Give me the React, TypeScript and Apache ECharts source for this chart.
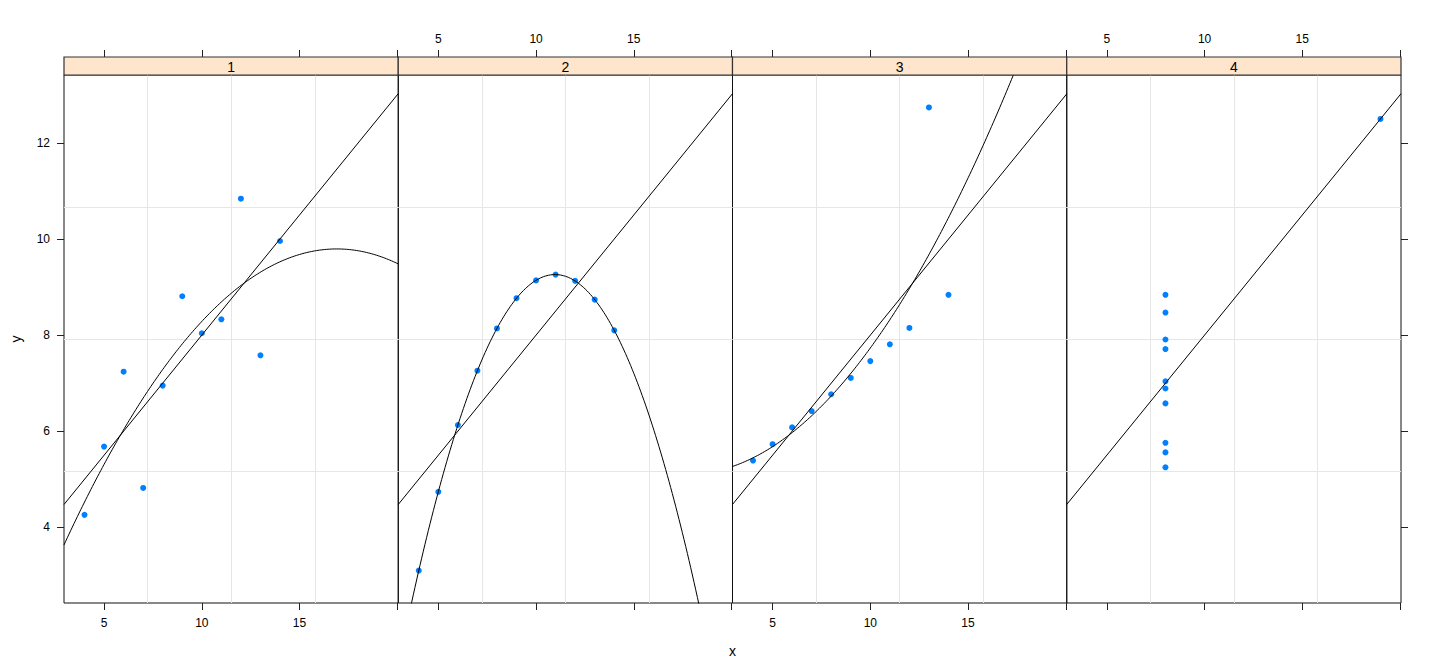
import * as echarts from 'echarts';
import { useEffect, useRef } from 'react';

// Anscombe's quartet
const x123 = [10, 8, 13, 9, 11, 14, 6, 4, 12, 7, 5];
const x4 = [8, 8, 8, 8, 8, 8, 8, 19, 8, 8, 8];
const y1 = [8.04, 6.95, 7.58, 8.81, 8.33, 9.96, 7.24, 4.26, 10.84, 4.82, 5.68];
const y2 = [9.14, 8.14, 8.74, 8.77, 9.26, 8.1, 6.13, 3.1, 9.13, 7.26, 4.74];
const y3 = [7.46, 6.77, 12.74, 7.11, 7.81, 8.84, 6.08, 5.39, 8.15, 6.42, 5.73];
const y4 = [6.58, 5.76, 7.71, 8.84, 8.47, 7.04, 5.25, 12.5, 5.56, 7.91, 6.89];

const panelLabels = ['1', '2', '3', '4'];
const xTicks = [5, 10, 15, 20];
const xTickLabels = [5, 10, 15];
const yTicks = [4, 6, 8, 10, 12];

const FONT = 'Liberation Sans';

const panels = [
  { x: x123, y: y1 },
  { x: x123, y: y2 },
  { x: x123, y: y3 },
  { x: x4, y: y4 },
];

// least squares polynomial fit, returns coefficients [c0, c1, ...]
function fitPoly(xs: number[], ys: number[], deg: number) {
  const n = deg + 1;
  const A: number[][] = [];
  for (let r = 0; r < n; r++) {
    A.push([]);
    for (let c = 0; c < n; c++) {
      A[r].push(xs.reduce((s, x) => s + Math.pow(x, r + c), 0));
    }
    A[r].push(xs.reduce((s, x, k) => s + Math.pow(x, r) * ys[k], 0));
  }
  for (let i = 0; i < n; i++) {
    let p = i;
    for (let r = i + 1; r < n; r++) if (Math.abs(A[r][i]) > Math.abs(A[p][i])) p = r;
    [A[i], A[p]] = [A[p], A[i]];
    for (let r = 0; r < n; r++) {
      if (r === i) continue;
      const f = A[r][i] / A[i][i];
      for (let c = i; c <= n; c++) A[r][c] -= f * A[i][c];
    }
  }
  return A.map((row, i) => row[n] / row[i]);
}

const evalPoly = (co: number[], x: number) => co.reduce((s, c, i) => s + c * Math.pow(x, i), 0);

function App() {
  const chartRef = useRef(null);

  useEffect(() => {
    const myChart = echarts.init(chartRef.current, null, { renderer: 'svg' });

    const allX = panels.flatMap((p) => p.x);
    const allY = panels.flatMap((p) => p.y);
    const xPad = (Math.max(...allX) - Math.min(...allX)) * 0.07;
    const yPad = (Math.max(...allY) - Math.min(...allY)) * 0.07;
    const xMin = Math.min(...allX) - xPad;
    const xMax = Math.max(...allX) + xPad;
    const yMin = Math.min(...allY) - yPad;
    const yMax = Math.max(...allY) + yPad;

    const left = 64;
    const top = 75;
    const width = 1337 / 4;
    const height = 528;
    const stripH = 18;

    const grid: any[] = [];
    const xAxis: any[] = [];
    const yAxis: any[] = [];
    const series: any[] = [];
    const graphic: any[] = [];

    const tickStyle = { color: '#222', width: 1 };
    const labelStyle = { color: '#000', fontSize: 12, fontFamily: FONT };

    panels.forEach((p, i) => {
      const gl = left + i * width;
      grid.push({
        left: gl,
        top,
        width,
        height,
        show: true,
        borderColor: '#111',
        borderWidth: 1,
        backgroundColor: 'transparent',
      });
      xAxis.push({
        gridIndex: i,
        type: 'value',
        min: xMin,
        max: xMax,
        position: 'bottom',
        axisLine: { show: false, onZero: false },
        splitLine: { show: false },
        axisTick: { show: true, customValues: xTicks, length: 7, lineStyle: tickStyle },
        axisLabel: { show: i % 2 === 0, customValues: xTickLabels, margin: 14, ...labelStyle },
      });
      xAxis.push({
        gridIndex: i,
        type: 'value',
        min: xMin,
        max: xMax,
        position: 'top',
        offset: stripH,
        axisLine: { show: false, onZero: false },
        splitLine: { show: false },
        axisTick: { show: true, customValues: xTicks, length: 7, lineStyle: tickStyle },
        axisLabel: { show: i % 2 === 1, customValues: xTickLabels, margin: 12, ...labelStyle },
      });
      yAxis.push({
        gridIndex: i,
        type: 'value',
        min: yMin,
        max: yMax,
        position: i === 3 ? 'right' : 'left',
        axisLine: { show: false, onZero: false },
        splitLine: { show: false },
        axisTick: {
          show: i === 0 || i === 3,
          customValues: yTicks,
          length: 7,
          lineStyle: tickStyle,
        },
        axisLabel: { show: i === 0, customValues: yTicks, margin: 14, ...labelStyle },
      });

      // reference grid: three equally spaced lines each way
      const vLines = [1, 2, 3].map((k) => ({ xAxis: xMin + (k * (xMax - xMin)) / 4 }));
      const hLines = [1, 2, 3].map((k) => ({ yAxis: yMin + (k * (yMax - yMin)) / 4 }));
      series.push({
        type: 'line',
        xAxisIndex: 2 * i,
        yAxisIndex: i,
        data: [],
        z: 1,
        markLine: {
          silent: true,
          z: 1,
          symbol: ['none', 'none'],
          label: { show: false },
          lineStyle: { color: '#e6e6e6', type: 'solid', width: 1 },
          emphasis: { disabled: true },
          data: [...vLines, ...hLines],
        },
      });

      series.push({
        type: 'scatter',
        xAxisIndex: 2 * i,
        yAxisIndex: i,
        data: p.x.map((x, k) => [x, p.y[k]]),
        symbol: 'circle',
        symbolSize: 6,
        itemStyle: { color: '#0080ff', opacity: 1 },
        z: 3,
      });

      const lin = fitPoly(p.x, p.y, 1);
      series.push({
        type: 'line',
        xAxisIndex: 2 * i,
        yAxisIndex: i,
        data: [
          [xMin, evalPoly(lin, xMin)],
          [xMax, evalPoly(lin, xMax)],
        ],
        symbol: 'none',
        lineStyle: { color: '#000', width: 1 },
        clip: true,
        z: 4,
      });

      if (new Set(p.x).size > 2) {
        const quad = fitPoly(p.x, p.y, 2);
        const pts: number[][] = [];
        for (let s = 0; s <= 200; s++) {
          const x = xMin + ((xMax - xMin) * s) / 200;
          pts.push([x, evalPoly(quad, x)]);
        }
        series.push({
          type: 'line',
          xAxisIndex: 2 * i,
          yAxisIndex: i,
          data: pts,
          symbol: 'none',
          lineStyle: { color: '#000', width: 1 },
          clip: true,
          z: 4,
        });
      }

      graphic.push({
        type: 'rect',
        shape: { x: gl, y: top - stripH, width, height: stripH },
        style: { fill: '#ffe5cc', stroke: '#333', lineWidth: 1.2 },
        z: 10,
      });
      graphic.push({
        type: 'text',
        x: gl + width / 2,
        y: top - stripH / 2 + 1,
        style: {
          text: panelLabels[i],
          fill: '#000',
          fontSize: 14,
          fontFamily: FONT,
          textAlign: 'center',
          textVerticalAlign: 'middle',
        },
        z: 11,
      });
    });

    graphic.push({
      type: 'text',
      x: left + 1337 / 2,
      y: 651,
      style: {
        text: 'x',
        fill: '#000',
        fontSize: 14,
        fontFamily: FONT,
        textAlign: 'center',
        textVerticalAlign: 'middle',
      },
    });
    graphic.push({
      type: 'text',
      x: 16,
      y: top + height / 2,
      rotation: Math.PI / 2,
      style: {
        text: 'y',
        fill: '#000',
        fontSize: 14,
        fontFamily: FONT,
        textAlign: 'center',
        textVerticalAlign: 'middle',
      },
    });

    const option = {
      animation: false,
      backgroundColor: '#fff',
      grid,
      xAxis,
      yAxis,
      series,
      graphic,
    };

    myChart.setOption(option);

    return () => {
      myChart.dispose();
    };
  }, []);

  return (
    <div
      ref={chartRef}
      style={{ position: 'fixed', left: 0, top: 0, width: '1440px', height: '672px' }}
    ></div>
  );
}

export default App;
